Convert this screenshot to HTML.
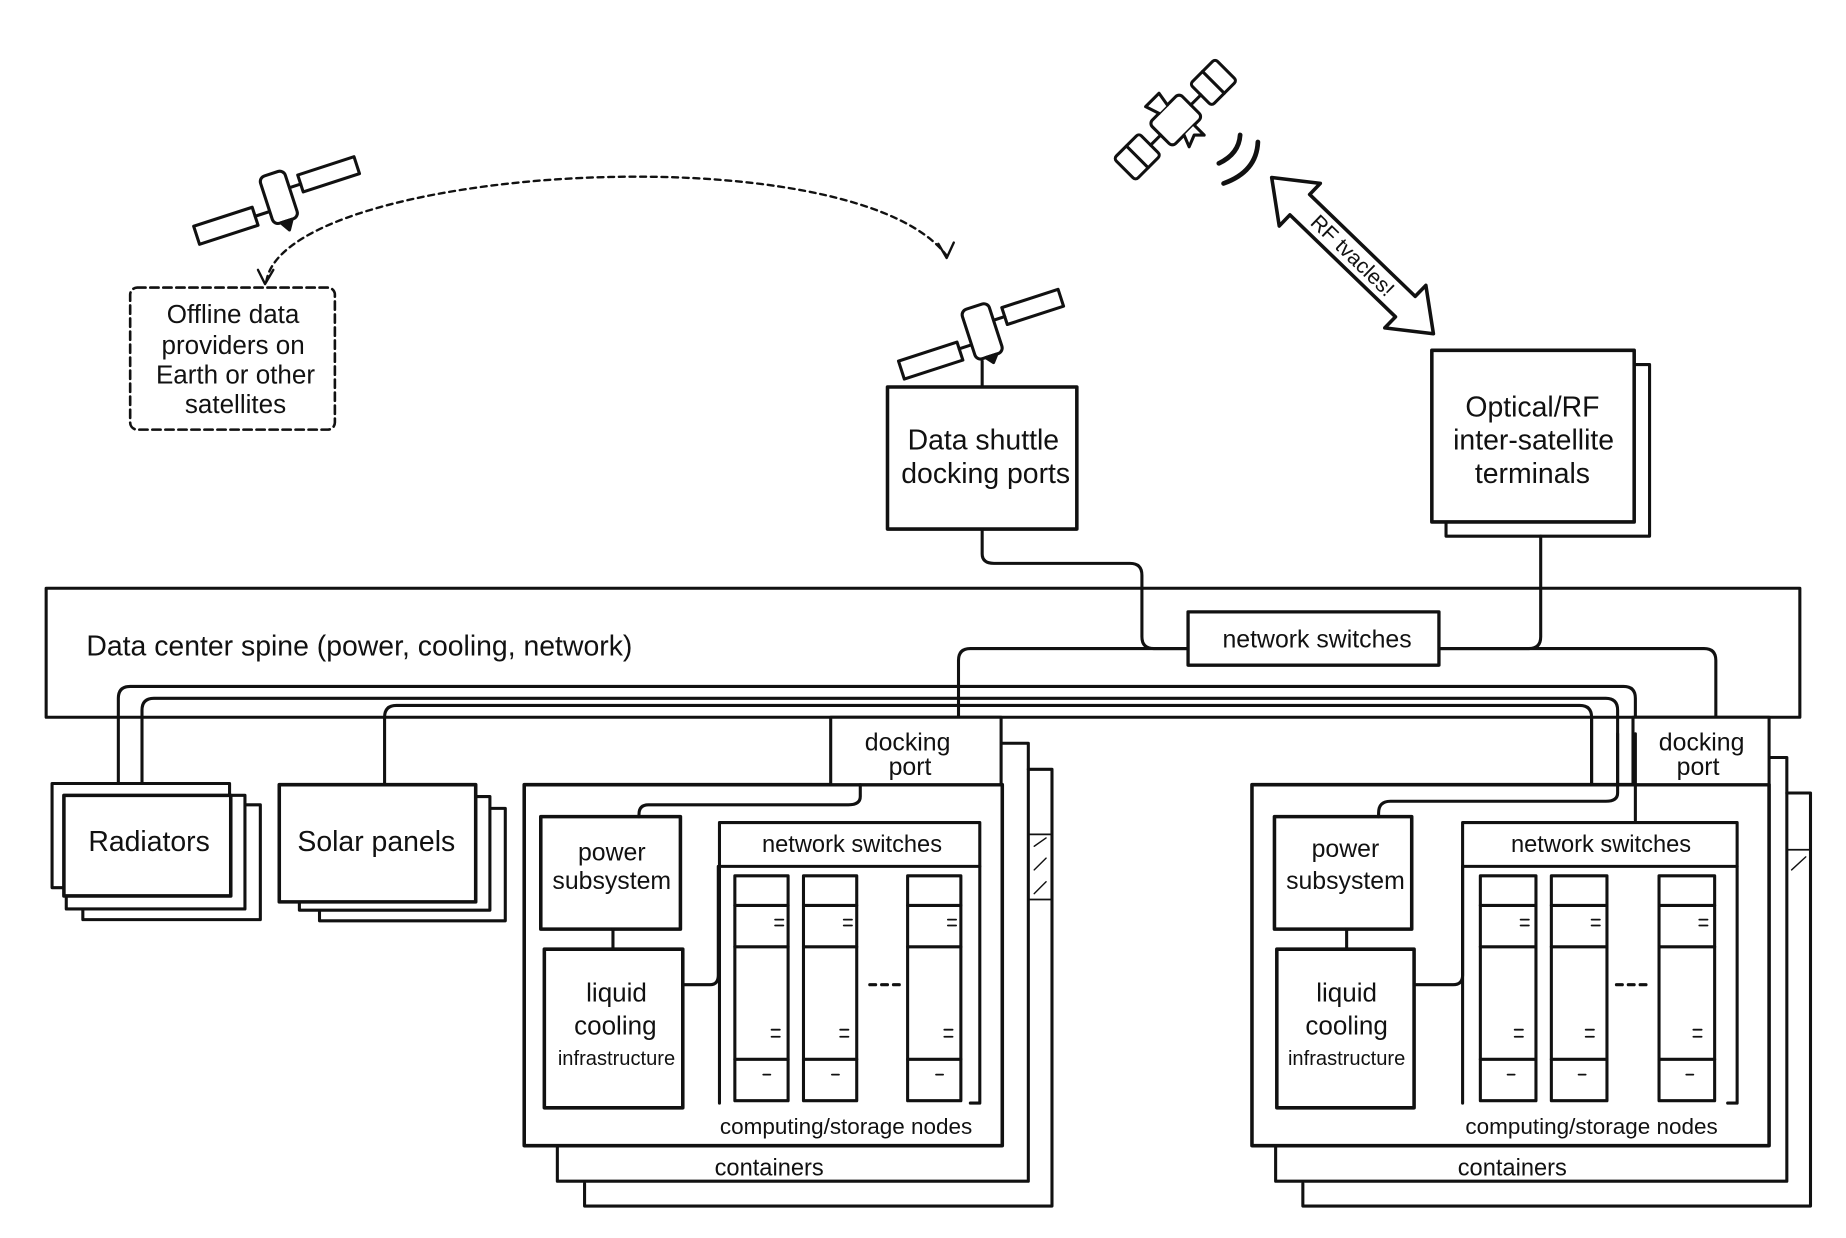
<!DOCTYPE html>
<html><head><meta charset="utf-8"><style>
html,body{margin:0;padding:0;background:#fff;}
svg{display:block;}
text{font-family:"Liberation Sans Narrow","Liberation Sans",sans-serif;fill:#111;}
</style></head><body>
<svg width="1846" height="1238" viewBox="0 0 1560 1046" preserveAspectRatio="none" xmlns="http://www.w3.org/2000/svg">
<g fill="none" stroke="#111" stroke-width="2.6" stroke-linejoin="round" stroke-linecap="round">
<!-- satellite 1 -->
<g transform="translate(235,168) rotate(-18)">
<rect x="-75" y="0" width="52" height="16" fill="#fff"/>
<rect x="22" y="-14" width="50" height="15" fill="#fff"/>
<line x1="-23" y1="8" x2="-10" y2="8"/><line x1="10" y1="-6" x2="22" y2="-6"/>
<rect x="-10" y="-22" width="22" height="42" rx="5" fill="#fff"/>
<path d="M-4,20 L6,20 L1,28 Z" fill="#111"/>
</g>
<!-- dashed arc -->
<path d="M225,238 C240,140 720,110 800,216" stroke-dasharray="5,4" stroke-width="2"/>
<path d="M218,228 L224,240 L231,228" stroke-width="2"/>
<path d="M793,206 L800,218 L806,205" stroke-width="2"/>
<!-- offline box -->
<rect x="110" y="243" width="173" height="120" rx="6" stroke-dasharray="7,4" stroke-width="2.2"/>
<!-- satellite 2 -->
<g transform="translate(830,280) rotate(-18)">
<rect x="-75" y="2" width="52" height="16" fill="#fff"/>
<rect x="22" y="-14" width="50" height="15" fill="#fff"/>
<line x1="-23" y1="8" x2="-10" y2="8"/><line x1="10" y1="-6" x2="22" y2="-6"/>
<rect x="-12" y="-22" width="24" height="44" rx="5" fill="#fff"/>
<path d="M-4,22 L6,22 L1,28 Z" fill="#111"/>
</g>
<line x1="830" y1="305" x2="830" y2="327"/>
<!-- shuttle box -->
<rect x="750" y="327" width="160" height="120" stroke-width="3"/>
<!-- optical box -->
<rect x="1222" y="308" width="172" height="145" fill="#fff"/>
<rect x="1210" y="296" width="171" height="145" fill="#fff" stroke-width="3"/>
<!-- satellite 3 -->
<g transform="translate(995,100) rotate(-45)">
<rect x="-20" y="-14" width="36" height="28" rx="4" fill="#fff"/>
<rect x="-62" y="-14" width="30" height="26" rx="3" fill="#fff"/>
<line x1="-47" y1="-14" x2="-47" y2="12"/>
<rect x="28" y="-13" width="30" height="26" rx="3" fill="#fff"/>
<line x1="43" y1="-13" x2="43" y2="13"/>
<line x1="-32" y1="0" x2="-20" y2="0"/><line x1="16" y1="0" x2="28" y2="0"/>
<path d="M-8,-14 L-12,-26 L4,-26 L2,-14" fill="#fff"/>
<path d="M-6,14 L-10,24 L0,20 L6,26 L6,14" fill="#fff"/>
</g>
<path d="M1030,138 Q1047,130 1048,114" stroke-width="4"/>
<path d="M1034,155 Q1062,145 1063,120" stroke-width="4"/>
<!-- RF arrow -->
<g transform="translate(1143,216) rotate(44)">
<polygon points="-95,0 -62,-25 -62,-12 62,-12 62,-25 95,0 62,25 62,12 -62,12 -62,25" fill="#fff" stroke-width="3"/>
</g>
<!-- spine -->
<rect x="39" y="497" width="1482" height="109" stroke-width="2.6"/>
<!-- connectors -->
<path d="M830,447 V468 Q830,476 840,476 H955 Q965,476 965,486 V538 Q965,548 975,548 H1004"/>
<path d="M1302,453 V538 Q1302,548 1292,548 H1216"/>
<path d="M810,606 V558 Q810,548 820,548 H1004 M1216,548 H1440 Q1450,548 1450,558 V606"/>
<path d="M100,662 V590 Q100,580 110,580 H1372 Q1382,580 1382,590 V693"/>
<path d="M120,662 V600 Q120,590 130,590 H1357 Q1367,590 1367,600 V670 Q1367,677 1357,677 H1175 Q1165,677 1165,687 V690"/>
<path d="M325,662 V606 Q325,596 335,596 H1335 Q1345,596 1345,606 V663"/>
<rect x="1004" y="517" width="212" height="45" fill="#fff" stroke-width="2.8"/>
<!-- radiators -->
<rect x="70" y="680" width="150" height="97" fill="#fff"/>
<rect x="56" y="672" width="151" height="96" fill="#fff"/>
<rect x="44" y="662" width="150" height="88" fill="#fff"/>
<rect x="54" y="672" width="141" height="85" fill="#fff" stroke-width="3"/>
<!-- solar -->
<rect x="270" y="683" width="157" height="95" fill="#fff"/>
<rect x="253" y="673" width="161" height="96" fill="#fff"/>
<rect x="236" y="663" width="166" height="99" fill="#fff" stroke-width="3"/>
<!-- left container -->
<path d="M494,1000 V1019 H889 V650 H869"/>
<path d="M471,968 V998 H869 V628 H846"/>
<path d="M869,705 L889,705 M869,760 L889,760" stroke-width="1.5"/>
<path d="M874,715 L884,708 M874,735 L884,725 M874,755 L884,745" stroke-width="1.2"/>
<rect x="443" y="663" width="404" height="305" fill="#fff" stroke-width="3"/>
<rect x="702" y="606" width="144" height="57" fill="#fff"/>
<path d="M727,663 V673 Q727,680 717,680 H548 Q540,680 540,688 V690"/>
<rect x="457" y="690" width="118" height="95" stroke-width="3"/>
<line x1="518" y1="785" x2="518" y2="802"/>
<rect x="460" y="802" width="117" height="134" stroke-width="3"/>
<path d="M577,832 H600 Q607,832 607,824 V732"/>
<rect x="608" y="695" width="220" height="37"/>
<path d="M608,732 V932 M828,732 V932 H820"/>
<g id="racksL">
<rect x="621" y="740" width="45" height="190"/><line x1="621" y1="765" x2="666" y2="765"/><line x1="621" y1="800" x2="666" y2="800"/><line x1="621" y1="895" x2="666" y2="895"/>
<path d="M655,777 H662 M655,782 H662 M652,870 H659 M652,876 H659 M645,908 H651" stroke-width="1.5"/>
</g>
<use href="#racksL" x="58"/>
<use href="#racksL" x="146"/>
<path d="M735,832 H740 M745,832 H750 M755,832 H760"/>
<!-- right container -->
<path d="M1101,1000 V1019 H1530 V670 H1510"/>
<path d="M1078,968 V998 H1510 V640 H1495"/>
<path d="M1510,718 L1530,718" stroke-width="1.5"/>
<path d="M1514,735 L1526,724" stroke-width="1.2"/>
<rect x="1058" y="663" width="437" height="305" fill="#fff" stroke-width="3"/>
<rect x="1380" y="606" width="115" height="57" fill="#fff"/>
<path d="M1345,606 V663 M1367,620 V670 Q1367,677 1357,677 H1175 Q1165,677 1165,687 V690 M1382,620 V693"/>
<rect x="1077" y="690" width="116" height="95" stroke-width="3"/>
<line x1="1138" y1="785" x2="1138" y2="802"/>
<rect x="1079" y="802" width="116" height="134" stroke-width="3"/>
<path d="M1195,832 H1228 Q1236,832 1236,824 V732"/>
<rect x="1236" y="695" width="232" height="37"/>
<path d="M1236,732 V932 M1468,732 V932 H1460"/>
<g id="racksR">
<rect x="1251" y="740" width="47" height="190"/><line x1="1251" y1="765" x2="1298" y2="765"/><line x1="1251" y1="800" x2="1298" y2="800"/><line x1="1251" y1="895" x2="1298" y2="895"/>
<path d="M1285,777 H1292 M1285,782 H1292 M1280,870 H1287 M1280,876 H1287 M1274,908 H1280" stroke-width="1.5"/>
</g>
<use href="#racksR" x="60"/>
<use href="#racksR" x="151"/>
<path d="M1366,832 H1371 M1376,832 H1381 M1386,832 H1391"/>
</g>
<!-- text -->
<g text-anchor="middle" font-size="22">
<text x="197" y="273">Offline data</text>
<text x="197" y="299">providers on</text>
<text x="199" y="324">Earth or other</text>
<text x="199" y="349">satellites</text>
<text x="831" y="380" font-size="24">Data shuttle</text>
<text x="833" y="408" font-size="24">docking ports</text>
<text x="1295" y="352" font-size="24">Optical/RF</text>
<text x="1296" y="380" font-size="24">inter-satellite</text>
<text x="1295" y="408" font-size="24">terminals</text>
<text x="1143" y="222" font-size="18" transform="rotate(44 1143 216)">RF tvacles!</text>
<text x="1113" y="547" font-size="21">network switches</text>
<text x="126" y="719" font-size="24">Radiators</text>
<text x="318" y="719" font-size="24">Solar panels</text>
<text x="767" y="634" font-size="21">docking</text>
<text x="769" y="655" font-size="21">port</text>
<text x="1438" y="634" font-size="21">docking</text>
<text x="1435" y="655" font-size="21">port</text>
<text x="517" y="727" font-size="21">power</text>
<text x="517" y="751" font-size="21">subsystem</text>
<text x="1137" y="724" font-size="21">power</text>
<text x="1137" y="751" font-size="21">subsystem</text>
<text x="521" y="846" font-size="22">liquid</text>
<text x="520" y="874" font-size="22">cooling</text>
<text x="521" y="900" font-size="17">infrastructure</text>
<text x="1138" y="846" font-size="22">liquid</text>
<text x="1138" y="874" font-size="22">cooling</text>
<text x="1138" y="900" font-size="17">infrastructure</text>
<text x="720" y="720" font-size="20">network switches</text>
<text x="1353" y="720" font-size="20">network switches</text>
<text x="715" y="958" font-size="19">computing/storage nodes</text>
<text x="1345" y="958" font-size="19">computing/storage nodes</text>
<text x="650" y="993" font-size="20">containers</text>
<text x="1278" y="993" font-size="20">containers</text>
</g>
<text x="73" y="554" font-size="24">Data center spine (power, cooling, network)</text>
</svg>
</body></html>
